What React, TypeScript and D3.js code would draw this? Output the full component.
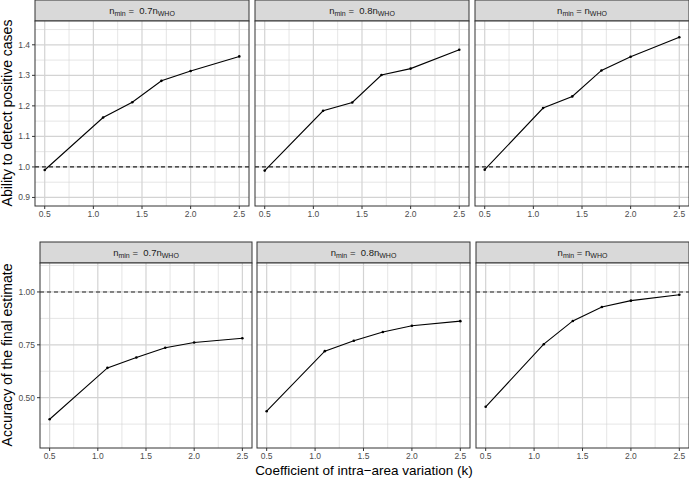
import React from "react";
import { scaleLinear, line } from "d3";

const kValues = [0.5, 1.1, 1.4, 1.7, 2.0, 2.5];
const xTicks = [0.5, 1.0, 1.5, 2.0, 2.5];
const xMinor = [0.75, 1.25, 1.75, 2.25];

const stripLabels = ["0.7", "0.8", ""];

const detect07 = [0.99, 1.162, 1.212, 1.282, 1.314, 1.362];
const detect08 = [0.988, 1.184, 1.211, 1.301, 1.322, 1.384];
const detect10 = [0.991, 1.193, 1.231, 1.316, 1.361, 1.425];

const accuracy07 = [0.398, 0.641, 0.69, 0.736, 0.761, 0.781];
const accuracy08 = [0.436, 0.72, 0.769, 0.811, 0.84, 0.862];
const accuracy10 = [0.457, 0.753, 0.863, 0.929, 0.959, 0.987];

const topTicks = [0.9, 1.0, 1.1, 1.2, 1.3, 1.4];
const topMinor = [0.95, 1.05, 1.15, 1.25, 1.35, 1.45];
const bottomTicks = [0.5, 0.75, 1.0];
const bottomMinor = [0.375, 0.625, 0.875, 1.125];

const font = "'Liberation Sans', Arial, Helvetica, sans-serif";

const Strip = ({ x, y, w, h, label }: any) => (
    <g>
        <rect x={x} y={y} width={w} height={h} fill="#d9d9d9" stroke="#333" strokeWidth={1} />
        <text x={x + w / 2} y={y + h / 2 + 3} textAnchor="middle" fontSize={9.5} fill="#1a1a1a" fontFamily={font} xmlSpace="preserve">
            n<tspan fontSize={7} dy={2}>min</tspan>
            <tspan dy={-2}>{label ? " =  " + label + "n" : " = n"}</tspan>
            <tspan fontSize={7} dy={2}>WHO</tspan>
        </text>
    </g>
);

const Panel = ({ left, right, top, bottom, domain, ticks, minor, fmt, values, showY, label }: any) => {
    const x = scaleLinear().domain([0.4, 2.6]).range([left, right]);
    const y = scaleLinear().domain(domain).range([bottom, top]);
    const path = line<number>()
        .x((_, i) => x(kValues[i]))
        .y((d) => y(d))(values);
    const grid = "#d3d3d3";
    return (
        <g>
            <Strip x={left} y={top - 21} w={right - left} h={21} label={label} />
            <rect x={left} y={top} width={right - left} height={bottom - top} fill="white" />
            {minor.map((t: number) => (
                <line key={"ym" + t} x1={left} x2={right} y1={y(t)} y2={y(t)} stroke={grid} strokeWidth={0.6} />
            ))}
            {xMinor.map((t) => (
                <line key={"xm" + t} x1={x(t)} x2={x(t)} y1={top} y2={bottom} stroke={grid} strokeWidth={0.6} />
            ))}
            {ticks.map((t: number) => (
                <line key={"y" + t} x1={left} x2={right} y1={y(t)} y2={y(t)} stroke={grid} strokeWidth={1.2} />
            ))}
            {xTicks.map((t) => (
                <line key={"x" + t} x1={x(t)} x2={x(t)} y1={top} y2={bottom} stroke={grid} strokeWidth={1.2} />
            ))}
            <line x1={left} x2={right} y1={y(1)} y2={y(1)} stroke="#222" strokeWidth={1.1} strokeDasharray="4,3" />
            <path d={path || ""} fill="none" stroke="black" strokeWidth={1.1} />
            {values.map((v: number, i: number) => (
                <circle key={i} cx={x(kValues[i])} cy={y(v)} r={1.3} fill="black" />
            ))}
            <rect x={left} y={top} width={right - left} height={bottom - top} fill="none" stroke="#333" strokeWidth={1} />
            {xTicks.map((t) => (
                <g key={"xt" + t}>
                    <line x1={x(t)} x2={x(t)} y1={bottom} y2={bottom + 3} stroke="#333" />
                    <text x={x(t)} y={bottom + 11} textAnchor="middle" fontSize={8.5} fill="#4d4d4d" fontFamily={font}>
                        {t.toFixed(1)}
                    </text>
                </g>
            ))}
            {showY &&
                ticks.map((t: number) => (
                    <g key={"yt" + t}>
                        <line x1={left - 3} x2={left} y1={y(t)} y2={y(t)} stroke="#333" />
                        <text x={left - 5} y={y(t) + 3} textAnchor="end" fontSize={8.5} fill="#4d4d4d" fontFamily={font}>
                            {fmt(t)}
                        </text>
                    </g>
                ))}
        </g>
    );
};

export default function App() {
    const topCols = [
        [35, 249],
        [255, 469],
        [475, 689],
    ];
    const bottomCols = [
        [40, 252],
        [257, 470],
        [476, 689],
    ];
    const topSeries = [detect07, detect08, detect10];
    const bottomSeries = [accuracy07, accuracy08, accuracy10];
    return (
        <svg width={689} height={479} style={{ position: "absolute", left: 0, top: 0, background: "white" }}>
            {topCols.map(([l, r], i) => (
                <Panel
                    key={"t" + i}
                    left={l}
                    right={r}
                    top={21}
                    bottom={206}
                    domain={[0.872, 1.478]}
                    ticks={topTicks}
                    minor={topMinor}
                    fmt={(t: number) => t.toFixed(1)}
                    values={topSeries[i]}
                    showY={i === 0}
                    label={stripLabels[i]}
                />
            ))}
            {bottomCols.map(([l, r], i) => (
                <Panel
                    key={"b" + i}
                    left={l}
                    right={r}
                    top={263}
                    bottom={448}
                    domain={[0.262, 1.137]}
                    ticks={bottomTicks}
                    minor={bottomMinor}
                    fmt={(t: number) => t.toFixed(2)}
                    values={bottomSeries[i]}
                    showY={i === 0}
                    label={stripLabels[i]}
                />
            ))}
            <text transform="translate(12,113) rotate(-90)" textAnchor="middle" fontSize={14} fill="black" fontFamily={font}>
                Ability to detect positive cases
            </text>
            <text transform="translate(12,355) rotate(-90)" textAnchor="middle" fontSize={14} fill="black" fontFamily={font}>
                Accuracy of the final estimate
            </text>
            <text x={364} y={475} textAnchor="middle" fontSize={13.5} fill="black" fontFamily={font}>
                Coefficient of intra−area variation (k)
            </text>
        </svg>
    );
}
